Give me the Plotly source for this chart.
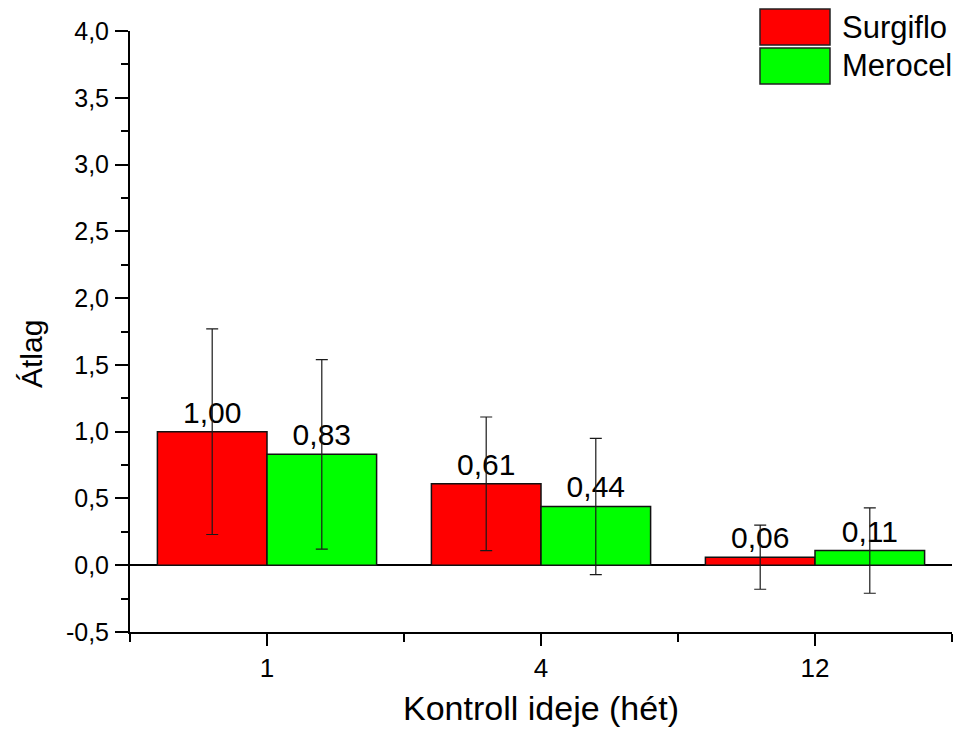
import plotly.graph_objects as go

# --- data -------------------------------------------------------------
weeks = ["1", "4", "12"]                 # control time (weeks)
surgiflo_mean = [1.00, 0.61, 0.06]
surgiflo_err = [0.77, 0.50, 0.24]
merocel_mean = [0.83, 0.44, 0.11]
merocel_err = [0.71, 0.51, 0.32]
series_names = ["Surgiflo", "Merocel"]
series_colors = ["#FF0000", "#00FF00"]

y_ticks = [-0.5, 0.0, 0.5, 1.0, 1.5, 2.0, 2.5, 3.0, 3.5, 4.0]
y_tick_labels = [f"{v:.1f}".replace(".", ",") for v in y_ticks]

# --- layout constants -------------------------------------------------
W, H = 959, 729
ML, MR, MT, MB = 130, 7, 31, 97
FONT = "Liberation Sans, Arial, sans-serif"

plot_w = W - ML - MR
plot_h = H - MT - MB


def px_x(px):
    return (px - ML) / plot_w


def px_y(py):
    return (H - MB - py) / plot_h


x_pos = list(range(len(weeks)))


def fmt(v):
    return f"{v:.2f}".replace(".", ",")


fig = go.Figure()
for name, color, means, errs in [
    (series_names[0], series_colors[0], surgiflo_mean, surgiflo_err),
    (series_names[1], series_colors[1], merocel_mean, merocel_err),
]:
    fig.add_trace(go.Bar(
        name=name,
        x=x_pos,
        y=means,
        marker=dict(color=color, line=dict(color="#111111", width=1.5)),
        error_y=dict(type="data", array=errs, visible=True,
                     color="#1a1a1a", thickness=1.2, width=6),
        text=[fmt(v) for v in means],
        textposition="outside",
        textfont=dict(family=FONT, size=30, color="#000000"),
        cliponaxis=False,
        showlegend=False,
    ))

fig.update_layout(
    width=W, height=H,
    margin=dict(l=ML, r=MR, t=MT, b=MB, pad=0),
    autosize=False,
    barmode="group",
    bargap=0.2,
    bargroupgap=0,
    plot_bgcolor="white",
    paper_bgcolor="white",
    font=dict(family=FONT, color="#000000"),
    separators=", ",
)

fig.update_xaxes(
    range=[-0.5, 2.5],
    tickmode="array",
    tickvals=x_pos,
    ticktext=weeks,
    ticks="outside", ticklen=12, tickwidth=2, tickcolor="#000000",
    minor=dict(tickmode="array", tickvals=[-0.5, 0.5, 1.5, 2.5],
               ticks="outside", ticklen=8, tickwidth=2, tickcolor="#000000"),
    showline=True, linecolor="#000000", linewidth=2,
    showgrid=False, zeroline=False,
    tickfont=dict(family=FONT, size=26),
    title=dict(text="Kontroll ideje (hét)", font=dict(family=FONT, size=34),
               standoff=14),
)

fig.update_yaxes(
    range=[-0.5, 4.0],
    tickmode="array",
    tickvals=y_ticks,
    ticktext=y_tick_labels,
    ticks="outside", ticklen=13, tickwidth=2, tickcolor="#000000",
    minor=dict(dtick=0.25, tick0=0, ticks="outside", ticklen=7,
               tickwidth=2, tickcolor="#000000"),
    showline=True, linecolor="#000000", linewidth=2,
    showgrid=False,
    zeroline=True, zerolinecolor="#000000", zerolinewidth=2,
    tickfont=dict(family=FONT, size=25),
    ticklabelstandoff=1,
)

# y-axis title
fig.add_annotation(
    text="Átlag", textangle=-90,
    xref="paper", yref="paper",
    x=px_x(31), y=px_y(354),
    xanchor="center", yanchor="middle",
    showarrow=False,
    font=dict(family=FONT, size=30, color="#000000"),
)

# legend: large colour keys with labels, top right
legend_rows = [(9, 45), (48, 84)]
for (top, bottom), name, color in zip(legend_rows, series_names, series_colors):
    fig.add_shape(
        type="rect", xref="paper", yref="paper",
        x0=px_x(760), x1=px_x(830), y0=px_y(bottom), y1=px_y(top),
        fillcolor=color, line=dict(color="#222222", width=1.5),
        layer="above",
    )
    fig.add_annotation(
        text=name, xref="paper", yref="paper",
        x=px_x(840), y=px_y((top + bottom) / 2),
        xanchor="left", yanchor="middle", showarrow=False,
        font=dict(family=FONT, size=31, color="#000000"),
    )

fig.write_html("out.html")
